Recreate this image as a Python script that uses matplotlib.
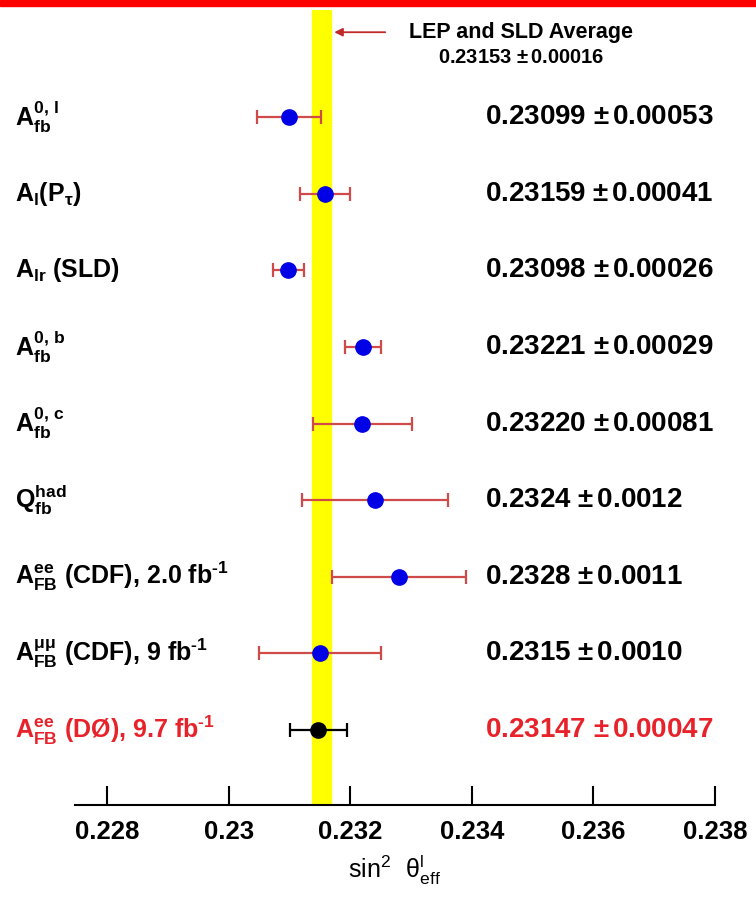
import matplotlib
matplotlib.use("Agg")
import matplotlib.pyplot as plt
import matplotlib.transforms as mtransforms
from matplotlib.patches import Rectangle

plt.rcParams['font.family'] = ['Liberation Sans', 'DejaVu Sans']
plt.rcParams['mathtext.fontset'] = 'custom'
plt.rcParams['mathtext.rm'] = 'Liberation Sans:bold'
plt.rcParams['mathtext.it'] = 'Liberation Sans:bold'
plt.rcParams['mathtext.bf'] = 'Liberation Sans:bold'
plt.rcParams['mathtext.sf'] = 'Liberation Sans'

# ---- data ----
labels = [r'$\mathregular{A_{fb}^{0,\,l}}$',
          r'$\mathregular{A_{l}(P_{\tau})}$',
          r'$\mathregular{A_{lr}}$ (SLD)',
          r'$\mathregular{A_{fb}^{0,\,b}}$',
          r'$\mathregular{A_{fb}^{0,\,c}}$',
          r'$\mathregular{Q_{fb}^{had}}$',
          r'$\mathregular{A_{FB}^{ee}}$ (CDF), 2.0 fb$^{\text{-1}}$',
          r'$\mathregular{A_{FB}^{\mu\mu}}$ (CDF), 9 fb$^{\text{-1}}$',
          r'$\mathregular{A_{FB}^{ee}}$ (DØ), 9.7 fb$^{\text{-1}}$']
values = [0.23099, 0.23159, 0.23098, 0.23221, 0.23220, 0.2324, 0.2328, 0.2315, 0.23147]
errors = [0.00053, 0.00041, 0.00026, 0.00029, 0.00081, 0.0012, 0.0011, 0.0010, 0.00047]
value_texts = ['0.23099 $\\pm\\,$0.00053', '0.23159 $\\pm\\,$0.00041', '0.23098 $\\pm\\,$0.00026',
               '0.23221 $\\pm\\,$0.00029', '0.23220 $\\pm\\,$0.00081', '0.2324 $\\pm\\,$0.0012',
               '0.2328 $\\pm\\,$0.0011', '0.2315 $\\pm\\,$0.0010', '0.23147 $\\pm\\,$0.00047']
highlight = [False] * 8 + [True]
avg_value = 0.23153
avg_error = 0.00016
avg_text = '0.23153 $\\pm\\,$0.00016'
xticks = [0.228, 0.230, 0.232, 0.234, 0.236, 0.238]
xtick_labels = ['0.228', '0.23', '0.232', '0.234', '0.236', '0.238']

RED = '#e8222a'
ERR_RED = '#d04a4a'
BLUE = '#0000e6'

fig = plt.figure(figsize=(7.56, 8.98), dpi=100)
ax = fig.add_axes([75/756, 1 - 805/898, (715 - 75)/756, (805 - 10)/898])

# yellow band
ax.axvspan(avg_value - avg_error, avg_value + avg_error, color='#ffff00', zorder=0)

for i, (v, e, h) in enumerate(zip(values, errors, highlight)):
    ecol = 'black' if h else ERR_RED
    mcol = 'black' if h else BLUE
    ax.errorbar(v, i, xerr=e, fmt='o', color=mcol, ecolor=ecol, elinewidth=1.6,
                capsize=5, capthick=1.6, markersize=11, zorder=3)

ax.set_xlim(0.22747, 0.238)
ax.set_ylim(8.98, -1.40)
ax.set_xticks(xticks)
ax.set_xticklabels(xtick_labels, fontsize=18.5, fontweight='bold')
ax.set_yticks([])
for s in ['left', 'right', 'top']:
    ax.spines[s].set_visible(False)
ax.spines['bottom'].set_linewidth(1.5)
ax.tick_params(axis='x', direction='in', length=14, width=1.5, pad=11)
ax.set_xlabel(r'$\mathsf{sin^{2}\ \ \theta^{l}_{eff}}$', fontsize=18, labelpad=6)

# labels and values
trans = mtransforms.blended_transform_factory(fig.transFigure, ax.transData)
for i, (lab, vt, h) in enumerate(zip(labels, value_texts, highlight)):
    col = RED if h else 'black'
    ax.text(15/756, i, lab, transform=trans, ha='left', va='center',
            fontsize=18, fontweight='bold', color=col)
    ax.text(485/756, i, vt, transform=trans, ha='left', va='center',
            fontsize=20, fontweight='bold', color=col)

# average annotation
ax.annotate('', xy=(avg_value + avg_error, -1.11), xytext=(0.23262, -1.11),
            arrowprops=dict(arrowstyle='-|>', color='#c0282a', lw=1.3,
                            mutation_scale=12), annotation_clip=False)
ax.text(521/756, -1.11, 'LEP and SLD Average', transform=trans, ha='center',
        va='center', fontsize=15.5, fontweight='bold')
ax.text(521/756, -0.78, avg_text, transform=trans, ha='center',
        va='center', fontsize=14.5, fontweight='bold')

# red border at top
fig.patches.append(Rectangle((0, 1 - 6/898), 1, 6/898, transform=fig.transFigure,
                             color='#ff0000', zorder=5))

fig.savefig('out.png', dpi=100)
